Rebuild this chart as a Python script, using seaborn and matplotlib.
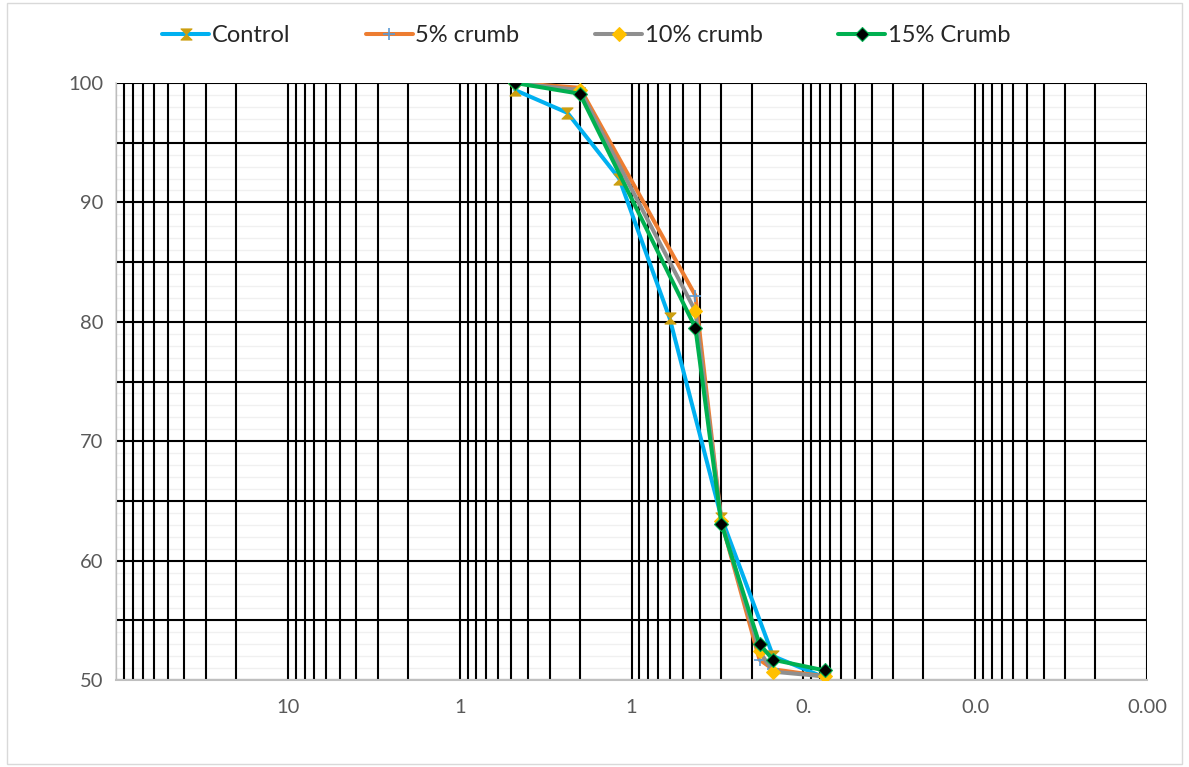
import numpy as np
import pandas as pd
import matplotlib
matplotlib.use("Agg")
import matplotlib.pyplot as plt
import seaborn as sns
from matplotlib.path import Path
from matplotlib.patches import Rectangle
from matplotlib.ticker import MultipleLocator, FuncFormatter, LogLocator, FixedLocator, FixedFormatter

# sieve sizes (mm) and percent passing
control_size = [4.75, 2.36, 1.18, 0.6, 0.3, 0.15, 0.075]
control_pass = [99.4, 97.5, 92.0, 80.3, 63.6, 52.0, 50.2]

crumb_size = [4.75, 2.0, 0.425, 0.3, 0.18, 0.15, 0.075]
crumb5_pass = [100.0, 99.6, 82.2, 63.3, 51.7, 50.9, 50.3]
crumb10_pass = [100.0, 99.4, 80.9, 63.3, 52.4, 50.7, 50.3]
crumb15_pass = [100.0, 99.1, 79.5, 63.1, 53.0, 51.7, 50.8]

x_ticks = [1000, 100, 10, 1, 0.1, 0.01, 0.001]
x_labels = ["", "10", "1", "1", "0.", "0.0", "0.00"]

sns.set_theme(style="white")
plt.rcParams["font.family"] = ["Lato", "DejaVu Sans"]

hourglass = Path([(-1, 1), (1, 1), (-1, -1), (1, -1), (-1, 1)],
                 [Path.MOVETO, Path.LINETO, Path.LINETO, Path.LINETO, Path.CLOSEPOLY])

fig = plt.figure(figsize=(11.89, 7.67), dpi=100)
ax = fig.add_axes([0.0976, 0.1134, 0.9647 - 0.0976, 0.8918 - 0.1134])

series = [
    ("Control", control_size, control_pass, "#00B0F0",
     dict(marker=hourglass, markersize=8, markerfacecolor="#CC9F10", markeredgecolor="#CC9F10")),
    ("5% crumb", crumb_size, crumb5_pass, "#ED7D31",
     dict(marker="+", markersize=9, markeredgecolor="#5B9BD5", markeredgewidth=1.2)),
    ("10% crumb", crumb_size, crumb10_pass, "#8F8F8F",
     dict(marker="D", markersize=7, markerfacecolor="#FFC000", markeredgecolor="#FFC000")),
    ("15% Crumb", crumb_size, crumb15_pass, "#00B050",
     dict(marker="D", markersize=7, markerfacecolor="black", markeredgecolor="#00B050", markeredgewidth=0.8)),
]

for name, xs, ys, col, mk in series:
    df = pd.DataFrame({"size": xs, "passing": ys})
    sns.lineplot(data=df, x="size", y="passing", ax=ax, color=col, lw=2.9,
                 sort=False, label=name, zorder=3, **mk)

ax.set_xscale("log")
ax.set_xlim(1000, 0.001)
ax.set_ylim(50, 100)

ax.xaxis.set_major_locator(FixedLocator(x_ticks))
ax.xaxis.set_major_formatter(FixedFormatter(x_labels))
ax.xaxis.set_minor_locator(LogLocator(base=10, subs=np.arange(2, 10), numticks=20))
ax.xaxis.set_minor_formatter(FuncFormatter(lambda v, p: ""))

ax.yaxis.set_major_locator(MultipleLocator(5))
ax.yaxis.set_major_formatter(FuncFormatter(lambda v, p: f"{int(v)}" if round(v) % 10 == 0 else ""))

# faint minor horizontal lines every unit, kept beneath the black grid
for yv in np.arange(51, 100):
    ax.axhline(yv, color="#F0F0F0", lw=1.0, zorder=0.1)

ax.grid(which="both", axis="x", color="black", lw=1.5)
ax.grid(which="major", axis="y", color="black", lw=1.5)
ax.set_axisbelow(True)

ax.tick_params(axis="both", which="both", length=0, labelsize=14.5, labelcolor="#595959")
ax.tick_params(axis="x", pad=14)
ax.tick_params(axis="y", pad=9)
ax.set_xlabel("")
ax.set_ylabel("")

for s in ["top", "right"]:
    ax.spines[s].set_visible(False)
ax.spines["bottom"].set_color("#BFBFBF")
ax.spines["left"].set_color("#D9D9D9")
ax.spines["bottom"].set_linewidth(1.5)

handles, labels = ax.get_legend_handles_labels()
ax.legend_.remove()
fig.legend(handles, labels, loc="upper center", bbox_to_anchor=(0.493, 0.995), ncol=4,
           frameon=False, fontsize=17, columnspacing=3.2, handlelength=2.0, handletextpad=0.1)

fig.patches.append(Rectangle((0.006, 0.004), 0.988, 0.992, transform=fig.transFigure,
                             fill=False, edgecolor="#D9D9D9", lw=1))

fig.savefig("out.png", dpi=100)
